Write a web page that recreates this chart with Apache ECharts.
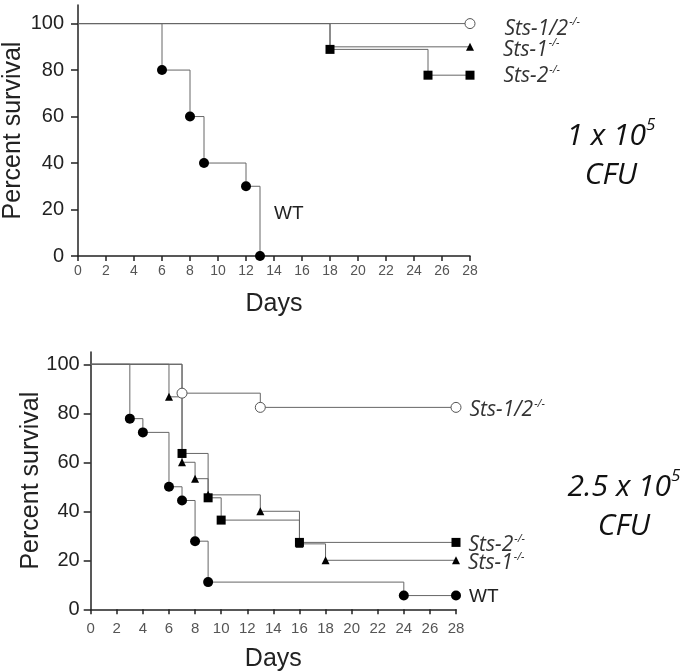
<!DOCTYPE html>
<html>
<head>
<meta charset="utf-8">
<script src="https://cdn.jsdelivr.net/npm/echarts@6/dist/echarts.min.js"></script>
<style>
html,body{margin:0;padding:0;background:#fff;}
#chart{width:680px;height:672px;}
</style>
</head>
<body>
<div id="chart"></div>
<script>
// ---- Data (Kaplan-Meier steps: [day, percent survival]) ----
// Top panel: 1 x 10^5 CFU
const topWT    = [[0,100],[6,80],[8,60],[9,40],[12,30],[13,0]];
const topSts12 = [[0,100],[28,100]];
const topSts1  = [[0,100],[18,90],[28,90]];
const topSts2  = [[0,100],[18,88.9],[25,77.8],[28,77.8]];
// Bottom panel: 2.5 x 10^5 CFU
const botWT    = [[0,100],[3,77.8],[4,72.2],[6,50],[7,44.4],[8,27.8],[9,11.1],[24,5.6],[28,5.6]];
const botSts1  = [[0,100],[6,86.7],[7,60],[8,53.3],[9,46.7],[13,40],[16,26.7],[18,20],[28,20]];
const botSts2  = [[0,100],[7,63.6],[9,45.5],[10,36.4],[16,27.3],[28,27.3]];
const botSts12 = [[0,100],[7,88.2],[13,82.4],[28,82.4]];

const yTicks = [0,20,40,60,80,100];
const xTicks = [0,2,4,6,8,10,12,14,16,18,20,22,24,26,28];
const yTitle = 'Percent survival';
const xTitle = 'Days';
const topDose = ['1 x 10', '5', 'CFU'];
const botDose = ['2.5 x 10', '5', 'CFU'];

const LINE = '#666';
const rich = {
  i: {fontFamily: 'Open Sans', fontStyle: 'italic', fontWeight: 'normal', fontSize: 21, color: '#333', lineHeight: 24},
  s: {fontFamily: 'Open Sans', fontStyle: 'italic', fontWeight: 'normal', fontSize: 11, color: '#333', verticalAlign: 'top', lineHeight: 12, padding: [0,0,0,1]},
  n: {fontFamily: 'Liberation Sans', fontWeight: 'normal', fontSize: 19, color: '#222', lineHeight: 24}
};

function mk(data, grid, sym, size, open, label, dist, dy, hidden) {
  hidden = hidden || [];
  return {
    type: 'line', step: 'end', xAxisIndex: grid, yAxisIndex: grid,
    showSymbol: true, showAllSymbol: true, symbol: sym, symbolSize: size,
    lineStyle: {color: LINE, width: 1},
    itemStyle: open ? {color: '#fff', borderColor: '#555', borderWidth: 1} : {color: '#000', borderWidth: 0},
    animation: false, silent: true, z: 2,
    data: data.map((d, i) => {
      const o = {value: d};
      if (i === 0 || hidden.indexOf(i) >= 0) o.symbol = 'none';
      if (label && i === data.length - 1) {
        o.label = {show: true, position: 'right', distance: dist, offset: [0, dy], formatter: label, rich: rich};
      }
      return o;
    })
  };
}

function axisX(grid, gap, lblMargin, fs) {
  return {
    type: 'value', gridIndex: grid, min: 0, max: 28, interval: 2,
    name: xTitle, nameLocation: 'middle', nameGap: gap, nameMoveOverlap: false,
    nameTextStyle: {fontFamily: 'Liberation Sans', fontSize: 25, color: '#222'},
    axisLine: {show: true, lineStyle: {color: '#222', width: 1.5}},
    axisTick: {show: true, length: 5, lineStyle: {color: '#222', width: 1.5}, customValues: xTicks},
    axisLabel: {margin: lblMargin, fontFamily: 'Liberation Sans', fontSize: fs, color: '#555', customValues: xTicks},
    splitLine: {show: false}
  };
}
function axisY(grid, max, gap, lblMargin, fs) {
  return {
    type: 'value', gridIndex: grid, min: 0, max: max,
    name: yTitle, nameLocation: 'middle', nameGap: gap, nameMoveOverlap: false,
    nameTextStyle: {fontFamily: 'Liberation Sans', fontSize: 25, color: '#222'},
    axisLine: {show: true, onZero: false, lineStyle: {color: '#222', width: 1.5}},
    axisTick: {show: true, length: 7, lineStyle: {color: '#222', width: 1.5}, customValues: yTicks},
    axisLabel: {margin: lblMargin, fontFamily: 'Liberation Sans', fontSize: fs, color: '#222', customValues: yTicks},
    splitLine: {show: false}
  };
}

const doseRich = {
  b: {fontFamily: 'Open Sans', fontStyle: 'italic', fontWeight: 'normal', fontSize: 30, color: '#111', lineHeight: 39},
  e: {fontFamily: 'Open Sans', fontStyle: 'italic', fontWeight: 'normal', fontSize: 17, color: '#111', verticalAlign: 'top', lineHeight: 22}
};

const option = {
  backgroundColor: '#fff',
  animation: false,
  grid: [
    {left: 78, right: 210, top: 5, bottom: 416, outerBoundsMode: 'none', containLabel: false},
    {left: 90.7, right: 224, top: 352, bottom: 62.7, outerBoundsMode: 'none', containLabel: false}
  ],
  xAxis: [axisX(0, 36, 8, 14), axisX(1, 37, 12, 15)],
  yAxis: [axisY(0, 108, 52, 14, 20), axisY(1, 105, 47, 11, 20)],
  title: [
    {text: '{b|' + topDose[0] + '}{e|' + topDose[1] + '}\n{b|' + topDose[2] + '}', left: 606, top: 112, textAlign: 'center',
     textStyle: {rich: doseRich, align: 'center', fontWeight: 'normal'}},
    {text: '{b|' + botDose[0] + '}{e|' + botDose[1] + '}\n{b|' + botDose[2] + '}', left: 619, top: 463, textAlign: 'center',
     textStyle: {rich: doseRich, align: 'center', fontWeight: 'normal'}},
    {text: 'WT', left: 269, top: 199, textStyle: {fontFamily: 'Liberation Sans', fontSize: 19, fontWeight: 'normal', color: '#222'}}
  ],
  series: [
    mk(topWT, 0, 'circle', 10, false, null, 0, 0),
    mk(topSts1, 0, 'triangle', 8, false, '{i|Sts-1}{s|-/-}', 29, 3, [1]),
    mk(topSts2, 0, 'rect', 9, false, '{i|Sts-2}{s|-/-}', 29, 1),
    mk(topSts12, 0, 'circle', 10, true, '{i|Sts-1/2}{s|-/-}', 29, 5),
    mk(botWT, 1, 'circle', 10, false, '{n|WT}', 8, 1),
    mk(botSts1, 1, 'triangle', 8, false, '{i|Sts-1}{s|-/-}', 8, 3),
    mk(botSts2, 1, 'rect', 9, false, '{i|Sts-2}{s|-/-}', 8, 3),
    mk(botSts12, 1, 'circle', 10, true, '{i|Sts-1/2}{s|-/-}', 8, 3)
  ]
};

const chart = echarts.init(document.getElementById('chart'), null, {renderer: 'canvas'});
chart.setOption(option);
</script>
</body>
</html>
